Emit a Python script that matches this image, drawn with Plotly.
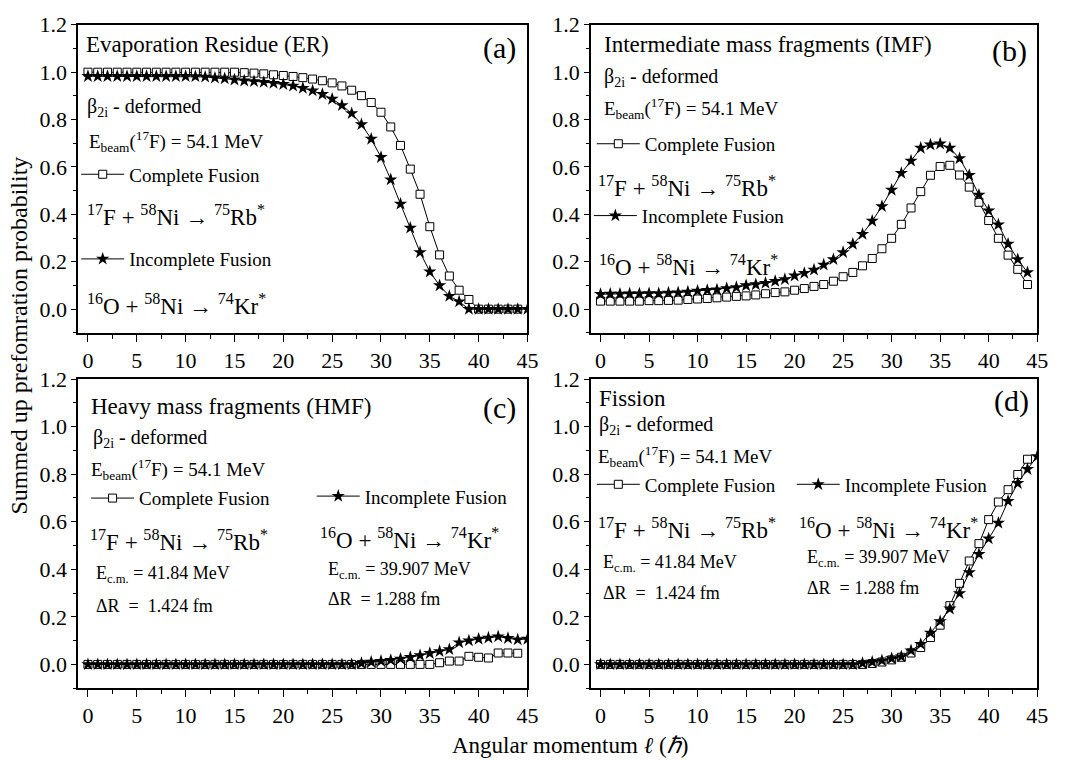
import plotly.graph_objects as go

W, H = 1065, 762
FONT = "Liberation Serif, Times New Roman, serif"

# ---------------- data ----------------
L_CF = list(range(0, 45))   # 0..44
L_IF = list(range(0, 46))   # 0..45
L_IF_B = list(range(0, 45))

er_cf = [1.0, 1.0, 1.0, 1.0, 1.0, 1.0, 1.0, 1.0, 1.0, 1.0, 1.0, 1.0, 1.0, 1.0, 1.0, 1.0,
         0.998, 0.996, 0.993, 0.989, 0.986, 0.982, 0.977, 0.971, 0.964, 0.955, 0.942,
         0.924, 0.901, 0.872, 0.831, 0.769, 0.691, 0.591, 0.485, 0.348, 0.229, 0.140,
         0.080, 0.041, 0.0, 0.0, 0.0, 0.0, 0.0]
er_if = [0.983, 0.983, 0.983, 0.983, 0.983, 0.983, 0.983, 0.983, 0.983, 0.983, 0.983,
         0.982, 0.980, 0.976, 0.973, 0.968, 0.964, 0.961, 0.958, 0.954, 0.949, 0.942,
         0.933, 0.922, 0.907, 0.887, 0.860, 0.826, 0.780, 0.718, 0.641, 0.547, 0.444,
         0.343, 0.240, 0.158, 0.100, 0.055, 0.032, 0.0, 0.0, 0.0, 0.0, 0.0, 0.0, 0.0]

imf_cf = [0.034, 0.034, 0.034, 0.034, 0.034, 0.036, 0.036, 0.037, 0.038, 0.041, 0.043,
          0.045, 0.048, 0.051, 0.054, 0.056, 0.060, 0.065, 0.070, 0.073, 0.080, 0.087,
          0.096, 0.104, 0.118, 0.137, 0.155, 0.183, 0.214, 0.255, 0.299, 0.358, 0.427,
          0.496, 0.565, 0.602, 0.607, 0.566, 0.515, 0.451, 0.374, 0.299, 0.228, 0.168,
          0.104]
imf_if = [0.063, 0.064, 0.064, 0.065, 0.065, 0.066, 0.066, 0.069, 0.070, 0.073, 0.077,
          0.080, 0.082, 0.088, 0.092, 0.100, 0.104, 0.110, 0.118, 0.126, 0.141, 0.152,
          0.166, 0.187, 0.210, 0.240, 0.275, 0.317, 0.372, 0.434, 0.503, 0.574, 0.626,
          0.680, 0.694, 0.698, 0.680, 0.636, 0.565, 0.482, 0.416, 0.357, 0.275, 0.210,
          0.155]

hmf_cf = [0.0] * 36 + [0.007, 0.014, 0.014, 0.034, 0.030, 0.027, 0.048, 0.048, 0.047]
hmf_if = [0.0] * 28 + [0.005, 0.010, 0.014, 0.018, 0.023, 0.030, 0.038, 0.047, 0.055,
                       0.063, 0.092, 0.100, 0.107, 0.112, 0.117, 0.110, 0.104, 0.107]

fis_cf = [0.0] * 28 + [0.004, 0.010, 0.019, 0.030, 0.048, 0.071, 0.113, 0.165, 0.247,
                       0.341, 0.435, 0.508, 0.609, 0.683, 0.735, 0.799, 0.863]
fis_if = [0.0] * 27 + [0.005, 0.010, 0.016, 0.025, 0.033, 0.058, 0.085, 0.133, 0.181,
                       0.234, 0.299, 0.387, 0.464, 0.529, 0.595, 0.687, 0.762, 0.821,
                       0.875]

x_ticks = [0, 5, 10, 15, 20, 25, 30, 35, 40, 45]
y_ticks = [0.0, 0.2, 0.4, 0.6, 0.8, 1.0, 1.2]

# ---------------- layout helpers ----------------
def px(x):
    return x / W

def py(y):
    return 1 - y / H

# panel pixel boxes (left, right, top, bottom)
boxes = {
    1: (79, 533, 13, 326),
    2: (597, 1048, 13, 326),
    3: (79, 533, 373, 687),
    4: (597, 1048, 373, 687),
}

fig = go.Figure()

series = [
    (1, L_CF, er_cf, "cf"), (1, L_IF, er_if, "if"),
    (2, L_CF, imf_cf, "cf"), (2, L_IF_B, imf_if, "if"),
    (3, L_CF, hmf_cf, "cf"), (3, L_IF, hmf_if, "if"),
    (4, L_CF, fis_cf, "cf"), (4, L_IF, fis_if, "if"),
]

for i, (p, xs, ys, kind) in enumerate(series):
    sfx = "" if p == 1 else str(p)
    leg = "legend" if i == 0 else f"legend{i+1}"
    if kind == "cf":
        marker = dict(symbol="square", size=8, color="white",
                      line=dict(color="black", width=1))
        name = "Complete Fusion"
    else:
        marker = dict(symbol="star", size=10, color="black",
                      line=dict(color="black", width=0))
        name = "Incomplete Fusion"
    fig.add_trace(go.Scatter(
        x=xs, y=ys, mode="lines+markers", name=name,
        line=dict(color="black", width=1), marker=marker,
        xaxis="x" + sfx, yaxis="y" + sfx, legend=leg, showlegend=True,
    ))

axis_font = dict(family=FONT, size=22, color="black")
layout = dict(
    width=W, height=H, margin=dict(l=0, r=0, t=0, b=0),
    paper_bgcolor="white", plot_bgcolor="white",
    font=dict(family=FONT, color="black"),
)

for p, (l, r, t, b) in boxes.items():
    sfx = "" if p == 1 else str(p)
    xd = [px(l), px(r)]
    yd = [py(b), py(t)]
    layout["xaxis" + sfx] = dict(
        domain=xd, anchor="y" + sfx, range=[-1, 45],
        tickvals=x_ticks, ticks="outside", ticklen=7, tickwidth=1,
        tickcolor="black", showline=True, linecolor="black", linewidth=1.5,
        mirror=True, showgrid=False, zeroline=False, tickfont=axis_font,
        minor=dict(dtick=2.5, tick0=0, ticks="outside", ticklen=4,
                   tickcolor="black", tickwidth=1, showgrid=False),
    )
    layout["yaxis" + sfx] = dict(
        domain=yd, anchor="x" + sfx, range=[-0.1, 1.2],
        tickvals=y_ticks, tickformat=".1f", ticks="outside", ticklen=5,
        tickwidth=1, tickcolor="black", showline=True, linecolor="black",
        linewidth=1.5, mirror=True, showgrid=False, zeroline=False,
        tickfont=axis_font,
        minor=dict(dtick=0.1, tick0=0, ticks="outside", ticklen=3,
                   tickcolor="black", tickwidth=1, showgrid=False),
    )
    # inner ticks on the top / right frame
    layout[f"xaxis{p+4}"] = dict(
        domain=xd, overlaying="x" + sfx, side="top", anchor="y" + sfx,
        range=[-1, 45], tickvals=x_ticks, ticks="inside", ticklen=5,
        tickcolor="black", showticklabels=False, showgrid=False,
        zeroline=False, showline=False,
    )
    layout[f"yaxis{p+4}"] = dict(
        domain=yd, overlaying="y" + sfx, side="right", anchor="x" + sfx,
        range=[-0.1, 1.2], tickvals=y_ticks, ticks="inside", ticklen=5,
        tickcolor="black", showticklabels=False, showgrid=False,
        zeroline=False, showline=False,
    )

# legends (one per curve), pixel positions of line start and centre y
leg_pos = [
    (82, 165), (82, 251),
    (603, 134), (600, 207),
    (92, 494), (320, 492),
    (603, 480), (805, 480),
]
for i, (lx, ly) in enumerate(leg_pos):
    key = "legend" if i == 0 else f"legend{i+1}"
    layout[key] = dict(
        x=px(lx - 5), y=py(ly), xanchor="left", yanchor="middle",
        bgcolor="rgba(0,0,0,0)", borderwidth=0, itemwidth=43,
        font=dict(family=FONT, size=19, color="black"),
        tracegroupgap=0,
    )

fig.update_layout(**layout)

ann = []

def text(x, y, s, size=19, xanchor="left"):
    ann.append(dict(x=px(x), y=py(y), xref="paper", yref="paper", text=s,
                    showarrow=False, xanchor=xanchor, yanchor="middle",
                    font=dict(family=FONT, size=size, color="black")))

NB = "\u00a0"
beta = "β<sub>2i</sub> - deformed"
ebeam = "E<sub>beam</sub>(<sup>17</sup>F) = 54.1 MeV"
rb = "<sup>17</sup>F + <sup>58</sup>Ni → <sup>75</sup>Rb<sup>*</sup>"
kr = "<sup>16</sup>O + <sup>58</sup>Ni → <sup>74</sup>Kr<sup>*</sup>"
ecm1 = "E<sub>c.m.</sub> = 41.84 MeV"
dr1 = "ΔR" + NB * 2 + "=" + NB * 2 + "1.424 fm"
ecm2 = "E<sub>c.m.</sub> = 39.907 MeV"
dr2 = "ΔR" + NB * 2 + "= 1.288 fm"

T, LBL, B, E, R, S = 23, 30, 20, 19, 23, 18

# (a)
text(85, 33, "Evaporation Residue (ER)", T)
text(523, 37, "(a)", LBL, "right")
text(86, 97, beta, B)
text(88, 132, ebeam, E)
text(86, 207, rb, R)
text(86, 297, kr, R)
# (b)
text(608, 33, "Intermediate mass fragments (IMF)", T)
text(1040, 40, "(b)", LBL, "right")
text(608, 67, beta, B)
text(608, 98, ebeam, E)
text(602, 177, rb, R)
text(603, 258, kr, R)
# (c)
text(90, 401, "Heavy mass fragments (HMF)", T)
text(523, 402, "(c)", LBL, "right")
text(92, 433, beta, B)
text(90, 465, ebeam, E)
text(89, 537, rb, R)
text(321, 535, kr, R)
text(95, 572, ecm1, S)
text(95, 603, dr1, S)
text(329, 567, ecm2, S)
text(329, 596, dr2, S)
# (d)
text(603, 393, "Fission", T)
text(1042, 395, "(d)", LBL, "right")
text(603, 420, beta, B)
text(602, 452, ebeam, E)
text(602, 525, rb, R)
text(805, 525, kr, R)
text(607, 560, ecm1, S)
text(607, 590, dr1, S)
text(813, 555, ecm2, S)
text(813, 585, dr2, S)

# axis titles
ann.append(dict(x=px(576), y=py(745), xref="paper", yref="paper",
                text="Angular momentum <i>ℓ</i> (<i>ℏ</i>)", showarrow=False,
                xanchor="center", yanchor="middle",
                font=dict(family=FONT, size=23, color="black")))
ann.append(dict(x=px(19), y=py(329), xref="paper", yref="paper",
                text="Summed up prefomration probability", showarrow=False,
                textangle=-90, xanchor="center", yanchor="middle",
                font=dict(family=FONT, size=24, color="black")))

fig.update_layout(annotations=ann)
fig.write_html("out.html")
